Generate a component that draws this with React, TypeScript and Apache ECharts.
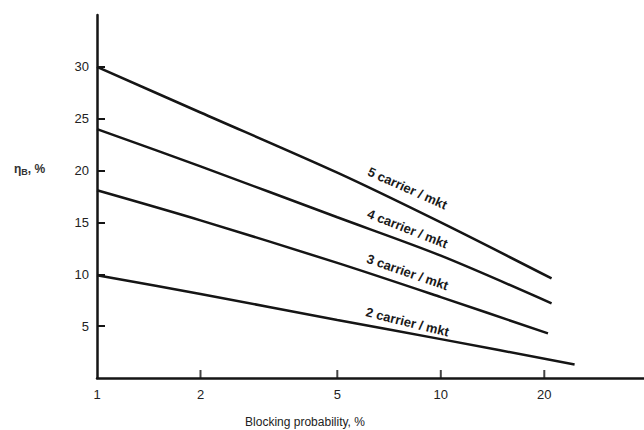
import React, { useEffect, useRef } from "react";
import * as echarts from "echarts";

const xTicks = [2, 5, 10, 20];
const xLabels = [1, 2, 5, 10, 20];
const yTicks = [5, 10, 15, 20, 25, 30];

const seriesNames = ["5 carrier / mkt", "4 carrier / mkt", "3 carrier / mkt", "2 carrier / mkt"];
const carrier5: [number, number][] = [[1, 30], [2, 25.6], [5, 19.8], [10, 15.0], [21, 9.6]];
const carrier4: [number, number][] = [[1, 24], [2, 20.4], [5, 15.5], [10, 11.8], [21, 7.2]];
const carrier3: [number, number][] = [[1, 18.1], [2, 15.2], [5, 11.1], [10, 7.8], [20.5, 4.3]];
const carrier2: [number, number][] = [[1, 9.9], [2, 8.1], [5, 5.6], [10, 3.75], [24.5, 1.3]];

// label placement: [x (data), y (data), rotation deg]
const labelSpots: [number, number, number][] = [
  [8.0, 18.3, 24],
  [8.0, 14.4, 21.5],
  [8.0, 10.2, 19],
  [8.0, 5.4, 14],
];

export default function App() {
  const ref = useRef<HTMLDivElement>(null);
  useEffect(() => {
    if (!ref.current) return;
    const chart = echarts.init(ref.current, null, { renderer: "svg" });
    const dataSets = [carrier5, carrier4, carrier3, carrier2];
    const ink = "#151515";
    const font = "'Liberation Sans', Arial, sans-serif";
    chart.setOption({
      animation: false,
      backgroundColor: "#ffffff",
      grid: { left: 97, top: 15, right: 0, bottom: 52 },
      xAxis: {
        type: "log",
        logBase: 10,
        min: 1,
        max: 39,
        axisLine: { show: true, lineStyle: { color: ink, width: 2.5 } },
        axisTick: { show: false },
        axisLabel: { show: true, customValues: xLabels, color: "#222", fontSize: 13, fontFamily: font, margin: 10 },
        splitLine: { show: false },
        minorTick: { show: false },
        minorSplitLine: { show: false },
      },
      yAxis: {
        type: "value",
        min: 0,
        max: 35,
        interval: 5,
        axisLine: { show: true, lineStyle: { color: ink, width: 2.5 } },
        axisTick: { show: true, inside: true, length: 8, lineStyle: { color: ink, width: 2 }, customValues: yTicks },
        axisLabel: { show: true, customValues: yTicks, color: "#222", fontSize: 13, fontFamily: font, margin: 8 },
        splitLine: { show: false },
      },
      series: [
        ...dataSets.map((d, i) => ({
          name: seriesNames[i],
          type: "line",
          data: d,
          smooth: 0.3,
          symbol: "none",
          lineStyle: { color: ink, width: 2.5 },
        })),
        {
          name: "xticks",
          type: "scatter",
          data: xTicks.map((v) => [v, 0]),
          symbol: "rect",
          symbolSize: [2, 8],
          symbolOffset: [0, -4],
          itemStyle: { color: ink },
          clip: false,
          silent: true,
          z: 5,
        },
      ],
      graphic: [
        {
          type: "text",
          left: 14,
          top: 163,
          style: {
            text: "{a|η}{b|B}{a|, %}",
            rich: {
              a: { fontSize: 12, fontFamily: font, fill: "#333", fontWeight: "bold" },
              b: { fontSize: 9, fontFamily: font, fill: "#333", fontWeight: "bold", padding: [6, 0, 0, 0] },
            },
          },
        },
        {
          type: "text",
          x: 305,
          y: 422,
          style: {
            text: "Blocking probability, %",
            fontSize: 12,
            fontFamily: font,
            fill: "#222",
            align: "center",
            verticalAlign: "middle",
          },
        },
      ],
    });
    const labels = labelSpots.map((s, i) => {
      const p = chart.convertToPixel({ gridIndex: 0 }, [s[0], s[1]]) as number[];
      return {
        type: "text",
        id: "lbl" + i,
        x: p[0],
        y: p[1],
        rotation: (-s[2] * Math.PI) / 180,
        style: {
          text: seriesNames[i],
          fontSize: 13,
          fontWeight: "bold",
          fontFamily: font,
          fill: "#1a1a1a",
          align: "center",
          verticalAlign: "middle",
        },
      };
    });
    chart.setOption({ graphic: labels });
    return () => chart.dispose();
  }, []);
  return <div ref={ref} style={{ position: "absolute", left: 0, top: 0, width: 644, height: 430 }} />;
}
